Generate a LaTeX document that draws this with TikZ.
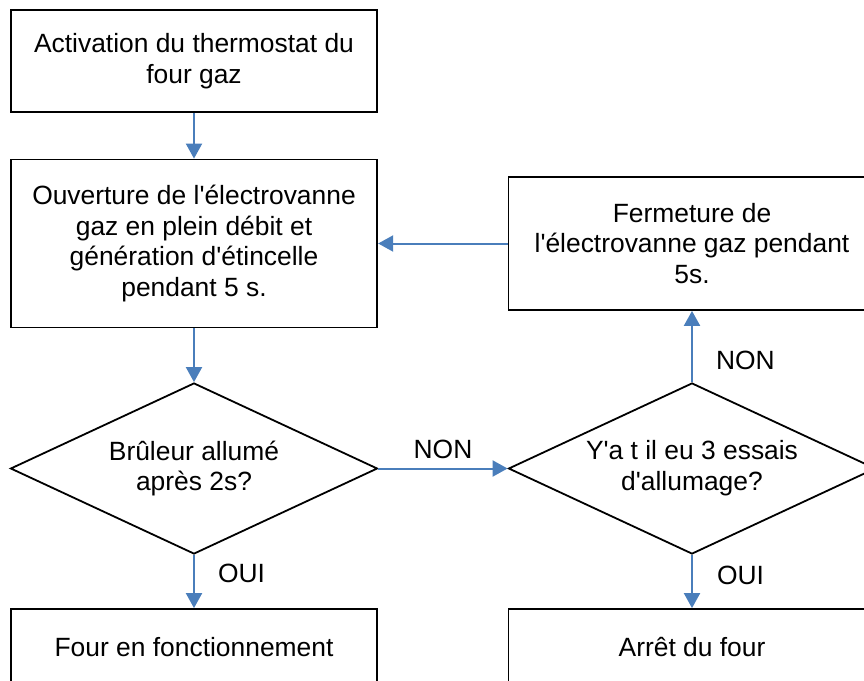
\documentclass[tikz,border=0pt]{standalone}
\usepackage{fontspec}
\setmainfont{Liberation Sans}
\usetikzlibrary{shapes.geometric,arrows.meta}
\definecolor{flow}{HTML}{4A7EBB}
\newcommand{\ap}{\textquotesingle}
\begin{document}
\begin{tikzpicture}[x=1pt,y=-1pt,
  txt/.style={font=\fontsize{26.4pt}{30.7pt}\selectfont},
  box/.style={txt,draw=black,line width=1.8pt,rectangle,minimum width=366.5pt,inner sep=0pt,align=center},
  dec/.style={txt,draw=black,line width=1.8pt,diamond,aspect=2.146,minimum width=367pt,minimum height=171pt,inner sep=0pt,align=center},
  flowarrow/.style={draw=flow,line width=2pt,-{Triangle[width=16pt,length=15pt]}},
  lbl/.style={txt,inner sep=0pt}]
\useasboundingbox (0,0) rectangle (864,680);
\clip (0,0) rectangle (864,680);
\node[box,minimum height=102pt] (b1) at (194,61) {Activation du thermostat du\\four gaz};
\node[box,minimum height=168pt] (b2) at (194,243.5) {Ouverture de l\ap électrovanne\\gaz en plein débit et\\génération d\ap étincelle\\pendant 5 s.};
\node[box,minimum height=133pt,minimum width=367pt] (b3) at (692,243.5) {Fermeture de\\l\ap électrovanne gaz pendant\\5s.};
\node[dec] (d1) at (194,468.5) {Brûleur allumé\\après 2s?};
\node[dec] (d2) at (692,468.5) {Y\ap a t il eu 3 essais\\d\ap allumage?};
\node[box,minimum height=76pt] (b4) at (194,647) {Four en fonctionnement};
\node[box,minimum height=76pt,minimum width=367pt] (b5) at (692,647) {Arrêt du four};
\draw[flowarrow] (b1) -- (b2);
\draw[flowarrow] (b2) -- (d1);
\draw[flowarrow] (b3) -- (b2);
\draw[flowarrow] (d1.east) -- node[lbl,above=9pt] (n1) {NON} (d2.west);
\draw[flowarrow] (d2.north) -- node[lbl,pos=0.31,right=23pt] (n2) {NON} (b3.south);
\draw[flowarrow] (d1.south) -- node[lbl,pos=0.35,right=23pt] (o1) {OUI} (b4.north);
\draw[flowarrow] (d2.south) -- node[lbl,pos=0.38,right=24pt] (o2) {OUI} (b5.north);
\end{tikzpicture}
\end{document}
